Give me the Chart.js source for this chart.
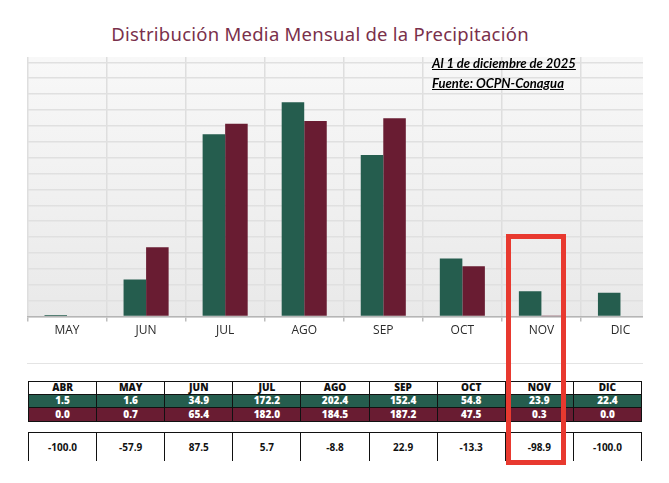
<!DOCTYPE html>
<html>
<head>
<meta charset="utf-8">
<script src="https://cdn.jsdelivr.net/npm/chart.js@4/dist/chart.umd.min.js"></script>
<style>
  body { margin: 0; background: #fff; width: 669px; height: 483px; position: relative; overflow: hidden; }
  #title { position: absolute; left: 0; width: 640px; top: 21px; text-align: center; font: 18.5px "Noto Sans", sans-serif; letter-spacing: 0.25px; color: #7a304b; }
  #wrap { position: absolute; left: 0; top: 0; width: 643px; height: 360px; overflow: hidden; }
  .note { position: absolute; left: 432px; font: italic bold 13px Lato, sans-serif; text-decoration: underline; color: #000; }
  #sep { position: absolute; left: 27px; width: 616px; top: 363px; border-top: 1.5px solid #e4e4e4; }
  table { position: absolute; width: 614px; border-collapse: collapse; table-layout: fixed; font-family: "Open Sans", sans-serif; font-weight: 800; font-size: 10px; text-align: center; }
  td { padding: 0; border: 1.5px solid #111; line-height: 11px; }
  #t1 { left: 28px; top: 381px; }
  #t1 tr.h td { height: 11.5px; background: #fff; color: #111; }
  #t1 tr.g td { height: 12.5px; background: #255d4e; color: #fff; }
  #t1 tr.m td { height: 12.5px; background: #691c32; color: #fff; }
  #t2 { left: 28px; top: 432px; }
  #t2 td { height: 28px; border-bottom: none; font-weight: 700; color: #111; }
  #redbox { position: absolute; left: 506px; top: 234px; width: 50px; height: 221px; border: 5.7px solid #e8392f; }
</style>
</head>
<body>
<div id="title">Distribución Media Mensual de la Precipitación</div>
<div id="wrap"><canvas id="lluvia" width="660" height="360"></canvas></div>
<div class="note" style="top:55px">Al 1 de diciembre de 2025</div>
<div class="note" style="top:75px">Fuente: OCPN-Conagua</div>
<div id="sep"></div>
<table id="t1"></table>
<table id="t2"></table>
<div id="redbox"></div>
<script>
let verde = "#255d4e";
let guinda = "#691c32";

// meses de la tabla (ABR queda fuera de la grafica)
let tablaMeses = ["ABR", "MAY", "JUN", "JUL", "AGO", "SEP", "OCT", "NOV", "DIC"];
let mediaHistorica = [1.5, 1.6, 34.9, 172.2, 202.4, 152.4, 54.8, 23.9, 22.4];
let lluvia2025 = [0.0, 0.7, 65.4, 182.0, 184.5, 187.2, 47.5, 0.3, 0.0];
let diferencia = [-100.0, -57.9, 87.5, 5.7, -8.8, 22.9, -13.3, -98.9, -100.0];

let meses = tablaMeses.slice(1);
let lineasY = [0, 15, 30, 45, 60, 75, 90, 105, 120, 135, 150, 165, 180, 195, 210, 225, 240];

function llenaTablas() {
  let t1 = document.getElementById("t1");
  let filas = [["h", tablaMeses], ["g", mediaHistorica.map(v => v.toFixed(1))], ["m", lluvia2025.map(v => v.toFixed(1))]];
  filas.forEach(f => {
    let tr = document.createElement("tr");
    tr.className = f[0];
    f[1].forEach(txt => {
      let td = document.createElement("td");
      td.textContent = txt;
      tr.appendChild(td);
    });
    t1.appendChild(tr);
  });
  let tr = document.createElement("tr");
  diferencia.forEach(v => {
    let td = document.createElement("td");
    td.textContent = v.toFixed(1);
    tr.appendChild(td);
  });
  document.getElementById("t2").appendChild(tr);
}

let fondo = {
  id: "fondo",
  beforeDraw(chart) {
    let a = chart.chartArea, c = chart.ctx;
    let g = c.createLinearGradient(0, a.top, 0, a.bottom);
    g.addColorStop(0, "#f8f8f8");
    g.addColorStop(1, "#e9e9e9");
    c.save();
    c.fillStyle = g;
    c.fillRect(a.left, a.top, a.right - a.left, a.bottom - a.top);
    c.restore();
  }
};

function grafica() {
  let ctx = document.getElementById("lluvia").getContext("2d");
  new Chart(ctx, {
    type: "bar",
    data: {
      labels: meses,
      datasets: [
        { label: "Media", data: mediaHistorica.slice(1), backgroundColor: verde },
        { label: "2025", data: lluvia2025.slice(1), backgroundColor: guinda }
      ]
    },
    options: {
      responsive: false,
      animation: false,
      categoryPercentage: 0.57,
      barPercentage: 1.0,
      layout: { padding: { left: 27.5, right: 0, top: 57, bottom: 20 } },
      plugins: { legend: { display: false }, tooltip: { enabled: false } },
      scales: {
        x: {
          grid: { color: "#dedede", lineWidth: 1.5, tickColor: "#bdbdbd", tickLength: 5 },
          border: { color: "#b5b5b5", width: 1.5 },
          ticks: { color: "#2b2b2b", padding: 2, font: { family: "Open Sans", size: 12 } }
        },
        y: {
          min: 0,
          max: 245,
          afterBuildTicks: s => { s.ticks = lineasY.map(v => ({ value: v })); },
          grid: { color: "#e0e0e0", lineWidth: 1.5, drawTicks: false },
          border: { display: false },
          ticks: { display: false }
        }
      }
    },
    plugins: [fondo]
  });
}

llenaTablas();
grafica();
</script>
</body>
</html>
